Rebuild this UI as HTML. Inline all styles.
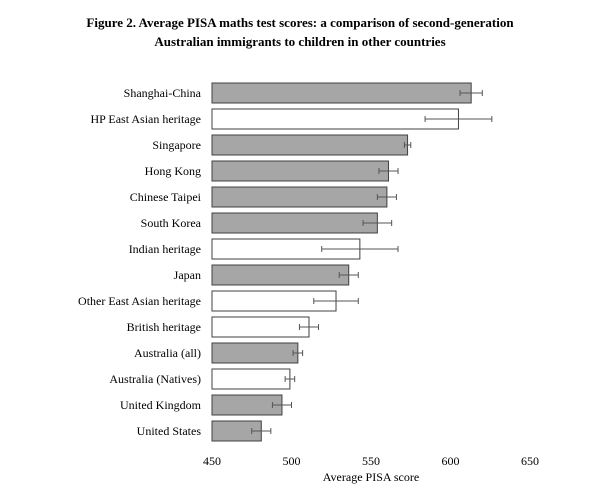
<!DOCTYPE html>
<html><head><meta charset="utf-8"><style>
body{margin:0;background:#fff;}
svg text{font-family:"Liberation Serif",serif;fill:#000;}
</style></head><body>
<svg width="600" height="495">
<text x="300" y="27" text-anchor="middle" font-size="13" font-weight="bold">Figure 2. Average PISA maths test scores: a comparison of second-generation</text>
<text x="300" y="46" text-anchor="middle" font-size="13" font-weight="bold">Australian immigrants to children in other countries</text>
<g id="plot"></g>
<text x="371" y="481" text-anchor="middle" font-size="12">Average PISA score</text>
</svg>
<script>
const categories=["Shanghai-China","HP East Asian heritage","Singapore","Hong Kong","Chinese Taipei","South Korea","Indian heritage","Japan","Other East Asian heritage","British heritage","Australia (all)","Australia (Natives)","United Kingdom","United States"];
const scores=[613,605,573,561,560,554,543,536,528,511,504,499,494,481];
const errors=[7,21,2,6,6,9,24,6,14,6,3,3,6,6];
const heritage=[0,1,0,0,0,0,1,0,1,1,0,1,0,0];
const ticks=[450,500,550,600,650];
const x0=212,x1=530,dmin=450,dmax=650;
const xs=v=>x0+(v-dmin)/(dmax-dmin)*(x1-x0);
const ys=i=>83+i*26;
const bh=20;
const ns="http://www.w3.org/2000/svg";
const g=document.getElementById('plot');
function mk(t,a){const e=document.createElementNS(ns,t);for(const k in a)e.setAttribute(k,a[k]);g.appendChild(e);return e;}
categories.forEach((c,i)=>{
 const y=ys(i);
 const r=mk('rect',{x:x0,y:y,width:xs(scores[i])-x0,height:bh,fill:heritage[i]?'#fff':'#a6a6a6',stroke:'#404040','stroke-width':1});
 
 
 const lo=xs(scores[i]-errors[i]),hi=xs(scores[i]+errors[i]),cy=y+bh/2;
 const eb=mk('path',{d:`M${lo},${cy}H${hi}M${lo},${cy-3}V${cy+3}M${hi},${cy-3}V${cy+3}`,stroke:'#555','stroke-width':1,fill:'none'});
 
 
 const t=mk('text',{x:201,y:cy+4,'text-anchor':'end','font-size':12});
 t.textContent=c;
 
 
});
ticks.forEach(v=>{
 const t=mk('text',{x:xs(v),y:465,'text-anchor':'middle','font-size':12});
 t.textContent=v;
 
 
});
</script>
</body></html>
